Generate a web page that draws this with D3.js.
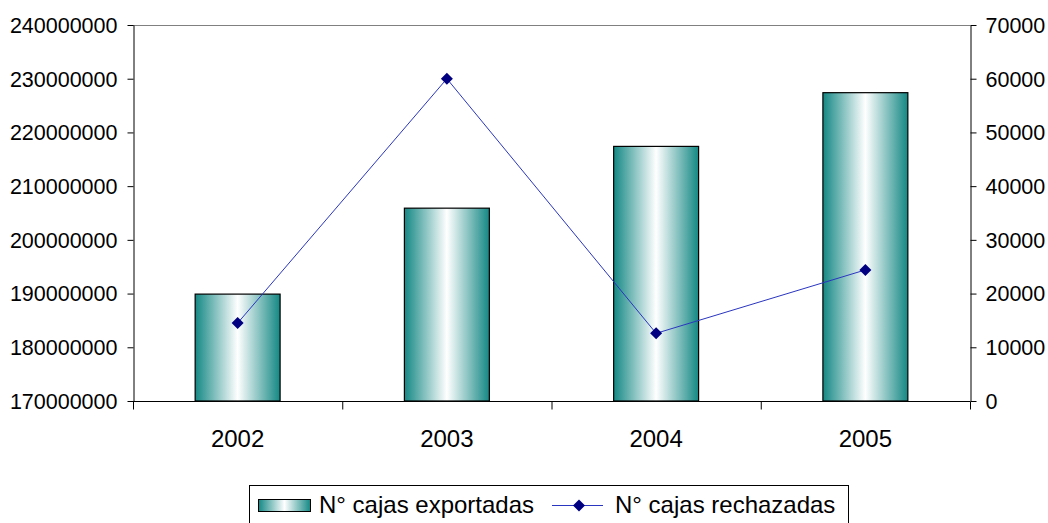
<!DOCTYPE html>
<html><head><meta charset="utf-8">
<script src="https://cdn.jsdelivr.net/npm/d3@7"></script>
<style>body{margin:0;background:#fff}svg{display:block}text{font-family:"Liberation Sans",Arial,sans-serif}</style>
</head><body><svg id="c" width="1048" height="523"></svg>
<script>
const categories = ["2002","2003","2004","2005"];
const exportadas = [189900000, 205900000, 217400000, 227400000];
const rechazadas = [14500, 60000, 12600, 24400];
const leftTicks = [170000000,180000000,190000000,200000000,210000000,220000000,230000000,240000000];
const rightTicks = [0,10000,20000,30000,40000,50000,60000,70000];
const seriesNames = ["N° cajas exportadas","N° cajas rechazadas"];

const svg = d3.select("#c");
const L=133, R=970, T=25, B=401;
const x = d3.scaleBand().domain(categories).range([L,R]).paddingInner(0.594).paddingOuter(0.297);
const yL = d3.scaleLinear().domain([170000000,240000000]).range([B,T]);
const yR = d3.scaleLinear().domain([0,70000]).range([B,T]);

const defs = svg.append("defs");
const g = defs.append("linearGradient").attr("id","bg").attr("x1","0").attr("x2","1").attr("y1","0").attr("y2","0");
g.append("stop").attr("offset","0").attr("stop-color","#148884");
g.append("stop").attr("offset","0.5").attr("stop-color","#ffffff");
g.append("stop").attr("offset","1").attr("stop-color","#148884");

svg.append("line").attr("x1",L).attr("x2",R).attr("y1",T+0.5).attr("y2",T+0.5).attr("stroke","#808080");

svg.selectAll("rect.bar").data(categories).join("rect").attr("class","bar")
  .attr("x",d=>x(d)).attr("width",x.bandwidth())
  .attr("y",(d,i)=>yL(exportadas[i])).attr("height",(d,i)=>B-yL(exportadas[i]))
  .attr("fill","url(#bg)").attr("stroke","#000").attr("stroke-width",1.2);

const fmt = d3.format("d");
const ax = svg.append("g").attr("transform",`translate(${L+0.5},0)`)
  .call(d3.axisLeft(yL).tickValues(leftTicks).tickFormat(fmt).tickSizeInner(6).tickSizeOuter(0).tickPadding(10));
const axr = svg.append("g").attr("transform",`translate(${R+0.5},0)`)
  .call(d3.axisRight(yR).tickValues(rightTicks).tickFormat(fmt).tickSizeInner(6).tickSizeOuter(0).tickPadding(9));
const bx = d3.scalePoint().domain(d3.range(5)).range([L,R]);
const axb = svg.append("g").attr("transform",`translate(0,${B+0.5})`);
axb.append("line").attr("x1",L).attr("x2",R).attr("stroke","#000");
axb.selectAll("line.t").data(d3.range(5)).join("line").attr("class","t")
  .attr("x1",d=>bx(d)+0.5).attr("x2",d=>bx(d)+0.5).attr("y1",0).attr("y2",8).attr("stroke","#000");
axb.selectAll("text").data(categories).join("text")
  .attr("x",d=>x(d)+x.bandwidth()/2).attr("y",45).attr("text-anchor","middle")
  .attr("font-size",24).text(d=>d);
[ax,axr].forEach(a=>{a.selectAll("path").attr("stroke","#000");a.selectAll("line").attr("stroke","#000");
  a.selectAll("text").attr("font-size",21.5).attr("fill","#000").attr("dy","0.34em");});

const cx = d=>x(d)+x.bandwidth()/2;
svg.append("path").datum(categories)
  .attr("d",d3.line().x(cx).y((d,i)=>yR(rechazadas[i])))
  .attr("fill","none").attr("stroke","#2a35c0").attr("stroke-width",1);
svg.selectAll("path.mk").data(categories).join("path").attr("class","mk")
  .attr("d",d3.symbol(d3.symbolSquare,72))
  .attr("transform",(d,i)=>`translate(${cx(d)},${yR(rechazadas[i])}) rotate(45)`)
  .attr("fill","#000080");

const lg = svg.append("g");
lg.append("rect").attr("x",249.5).attr("y",485.5).attr("width",599).attr("height",45).attr("fill","#fff").attr("stroke","#000");
lg.append("rect").attr("x",258.5).attr("y",499.5).attr("width",52).attr("height",12).attr("fill","url(#bg)").attr("stroke","#000");
lg.append("text").attr("x",319).attr("y",513).attr("font-size",24).text(seriesNames[0]);
lg.append("line").attr("x1",552).attr("x2",603).attr("y1",505.5).attr("y2",505.5).attr("stroke","#2a35c0");
lg.append("path").attr("d",d3.symbol(d3.symbolSquare,72)).attr("transform","translate(579,505.5) rotate(45)").attr("fill","#000080");
lg.append("text").attr("x",615).attr("y",513).attr("font-size",24).text(seriesNames[1]);
</script></body></html>
